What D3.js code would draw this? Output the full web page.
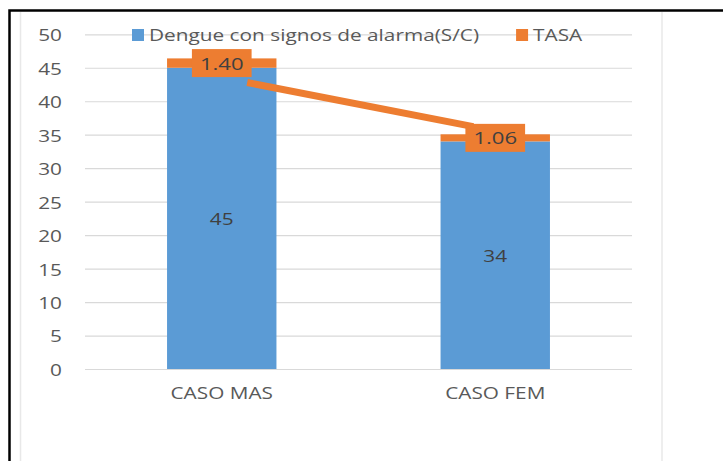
<!DOCTYPE html>
<html>
<head>
<meta charset="utf-8">
<script src="https://cdn.jsdelivr.net/npm/d3@7"></script>
<style>
  html, body { margin: 0; padding: 0; background: #fff; }
  svg { display: block; }
  text { font-family: "Open Sans", "Liberation Sans", sans-serif; }
</style>
</head>
<body>
<svg id="chart" width="723" height="461"></svg>
<script>
// ---------- data ----------
const categories = ["CASO MAS", "CASO FEM"];
const dengueValues = [45, 34];
const tasaValues = [1.40, 1.06];
const yTicks = [0, 5, 10, 15, 20, 25, 30, 35, 40, 45, 50];
const legendLabels = ["Dengue con signos de alarma(S/C)", "TASA"];
// TASA connector line: category, shift in band units from its centre, value on the y axis
const tasaLineCats = ["CASO MAS", "CASO FEM"];
const tasaLineShift = [0.093, -0.08];
const tasaLineValues = [42.8, 36.2];

// ---------- style ----------
const BLUE = "#5B9BD5", ORANGE = "#ED7D31", TXT = "#595959", LBL = "#404040", GRID = "#D9D9D9";
const SX = 1.3;           // horizontal stretch of the original picture's text
const FS = 16;

const svg = d3.select("#chart");
const W = 723, H = 461;
const plot = { left: 85, right: 632, top: 34.3, bottom: 369 };

// frame
svg.append("rect").attr("x", 0).attr("y", 0).attr("width", W).attr("height", H).attr("fill", "#fff");
svg.append("line").attr("x1", 20.5).attr("x2", 20.5).attr("y1", 12).attr("y2", H).attr("stroke", "#E8E8E8").attr("stroke-width", 1.5);
svg.append("line").attr("x1", 662).attr("x2", 662).attr("y1", 12).attr("y2", H).attr("stroke", "#E8E8E8").attr("stroke-width", 1.5);
svg.append("path").attr("d", `M9.5,${H} V10.5 H${W}`).attr("fill", "none").attr("stroke", "#000").attr("stroke-width", 2.5);

// scales
const x = d3.scaleBand().domain(categories).range([plot.left, plot.right]).padding(0);
const y = d3.scaleLinear().domain([0, 50]).range([plot.bottom, plot.top]);
const barW = x.bandwidth() * 0.4;

// y axis with gridlines
const yAxis = svg.append("g").attr("transform", `translate(${plot.left},0)`)
  .call(d3.axisLeft(y).tickValues(yTicks).tickSize(-(plot.right - plot.left)).tickPadding(0));
yAxis.select(".domain").remove();
yAxis.selectAll(".tick line").attr("stroke", GRID).attr("stroke-width", 1.2);
yAxis.selectAll(".tick text")
  .attr("x", 0).attr("dy", null).attr("dominant-baseline", "central")
  .attr("transform", `translate(-23,0) scale(${SX},1)`)
  .attr("fill", TXT).style("font-size", FS + "px").attr("text-anchor", "end");

// x axis labels
const xAxis = svg.append("g").attr("transform", `translate(0,${plot.bottom})`)
  .call(d3.axisBottom(x).tickSize(0).tickPadding(0));
xAxis.select(".domain").remove();
xAxis.selectAll(".tick text")
  .attr("y", 0).attr("dy", null)
  .attr("transform", `translate(0,30) scale(${SX},1)`)
  .attr("fill", TXT).style("font-size", FS + "px").attr("text-anchor", "middle");

// stacked bars
const rows = categories.map((c, i) => ({ cat: c, dengue: dengueValues[i], tasa: tasaValues[i] }));
const stack = d3.stack().keys(["dengue", "tasa"])(rows);
const colors = { dengue: BLUE, tasa: ORANGE };
stack.forEach(layer => {
  svg.append("g").selectAll("rect").data(layer).join("rect")
    .attr("x", d => x(d.data.cat) + x.bandwidth() / 2 - barW / 2)
    .attr("width", barW)
    .attr("y", d => y(d[1]))
    .attr("height", d => y(d[0]) - y(d[1]))
    .attr("fill", colors[layer.key]);
});

// dengue value labels
svg.append("g").selectAll("text").data(stack[0]).join("text")
  .attr("transform", d => `translate(${x(d.data.cat) + x.bandwidth() / 2},${y((d[0] + d[1]) / 2)}) scale(${SX},1)`)
  .attr("text-anchor", "middle").attr("dominant-baseline", "central")
  .attr("fill", LBL).style("font-size", FS + "px")
  .text(d => d.data.dengue);

// TASA connector line
const lineData = tasaLineCats.map((c, i) => ({ cat: c, shift: tasaLineShift[i], v: tasaLineValues[i] }));
svg.append("path").datum(lineData)
  .attr("d", d3.line().x(d => x(d.cat) + x.bandwidth() / 2 + d.shift * x.bandwidth()).y(d => y(d.v)))
  .attr("fill", "none").attr("stroke", ORANGE).attr("stroke-width", 7);

// TASA labels with orange boxes
const tl = svg.append("g").selectAll("g").data(stack[1]).join("g")
  .attr("transform", d => `translate(${x(d.data.cat) + x.bandwidth() / 2},${y((d[0] + d[1]) / 2)})`);
tl.append("text")
  .attr("transform", `scale(${SX},1)`)
  .attr("text-anchor", "middle").attr("dominant-baseline", "central")
  .attr("fill", LBL).style("font-size", (FS + 1) + "px")
  .text(d => d.data.tasa.toFixed(2));
tl.each(function() {
  const g = d3.select(this);
  const w = g.select("text").node().getComputedTextLength() * SX;
  g.insert("rect", "text").attr("x", -w / 2 - 8).attr("y", -14).attr("width", w + 16).attr("height", 28).attr("fill", ORANGE);
});

// legend
const leg = svg.append("g");
let lx = 132;
const legColors = [BLUE, ORANGE];
legendLabels.forEach((lab, i) => {
  leg.append("rect").attr("x", lx).attr("y", 29).attr("width", 12).attr("height", 12).attr("fill", legColors[i]);
  const t = leg.append("text")
    .attr("transform", `translate(${lx + 17},35) scale(${SX},1)`)
    .attr("dominant-baseline", "central").attr("fill", TXT).style("font-size", FS + "px")
    .text(lab);
  lx += 17 + t.node().getComputedTextLength() * SX + 37;
});
</script>
</body>
</html>
